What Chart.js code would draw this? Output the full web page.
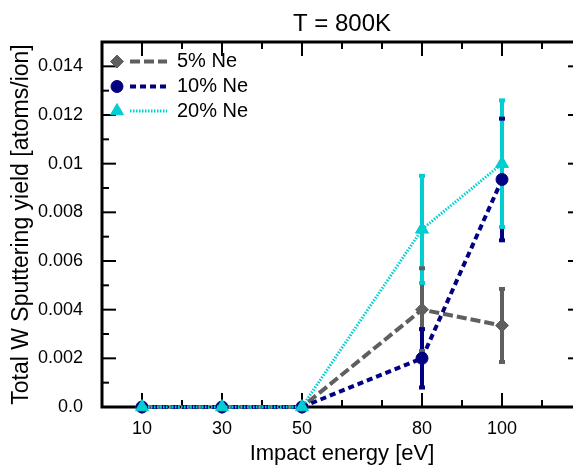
<!DOCTYPE html>
<html>
<head>
<meta charset="utf-8">
<script src="https://cdn.jsdelivr.net/npm/chart.js@4"></script>
<style>
  html, body { margin: 0; padding: 0; overflow: hidden; background: #fff; }
  #wrap { width: 592px; height: 470px; }
</style>
</head>
<body>
<div id="wrap"><canvas id="chart"></canvas></div>
<script>
const energies = [10, 30, 50, 80, 100];

const ne5 = [0, 0, 0, 0.0040, 0.00335];
const ne5Err = [0, 0, 0, 0.0017, 0.0015];
const ne10 = [0, 0, 0, 0.0020, 0.00935];
const ne10Err = [0, 0, 0, 0.0012, 0.0025];
const ne20 = [0, 0, 0, 0.0073, 0.0100];
const ne20Err = [0, 0, 0, 0.0022, 0.0026];

const xTicks = [10, 30, 50, 80, 100];
const xMinor = [20, 40, 60, 70, 90, 110];
const yTicks = [0, 0.002, 0.004, 0.006, 0.008, 0.010, 0.012, 0.014];
const yMinor = [0.001, 0.003, 0.005, 0.007, 0.009, 0.011, 0.013];

Chart.defaults.font.family = '"Liberation Sans", Arial, Helvetica, sans-serif';
Chart.defaults.color = '#000';

const toPoints = (vals) => energies.map((e, i) => ({ x: e, y: vals[i] }));

// box + inward ticks, all four sides
const framePlugin = {
  id: 'frame',
  beforeDatasetsDraw(chart) {
    const { ctx, chartArea: a, scales: { x, y } } = chart;
    ctx.save();
    ctx.strokeStyle = '#000';
    ctx.lineWidth = 2;
    const seg = (x1, y1, x2, y2) => {
      ctx.beginPath(); ctx.moveTo(x1, y1); ctx.lineTo(x2, y2); ctx.stroke();
    };
    const xt = (v, len) => {
      const px = x.getPixelForValue(v);
      seg(px, a.bottom, px, a.bottom - len);
      seg(px, a.top, px, a.top + len);
    };
    const yt = (v, len) => {
      const py = y.getPixelForValue(v);
      seg(a.left, py, a.left + len, py);
      seg(a.right, py, a.right - len, py);
    };
    xTicks.forEach(v => xt(v, 14));
    xMinor.forEach(v => xt(v, 7));
    yTicks.forEach(v => yt(v, 14));
    yMinor.forEach(v => yt(v, 7));
    ctx.lineWidth = 3;
    ctx.strokeRect(a.left, a.top, a.width, a.height);
    ctx.restore();
  }
};

const errorBarPlugin = {
  id: 'errorBars',
  beforeDatasetsDraw(chart) {
    const { ctx, scales: { x, y } } = chart;
    const sets = [...chart.data.datasets].sort((a, b) => b.order - a.order);
    ctx.save();
    ctx.lineWidth = 4;
    sets.forEach(ds => {
      ctx.strokeStyle = ds.borderColor;
      ds.data.forEach((p, i) => {
        const e = ds.errors[i];
        if (!e) return;
        const px = x.getPixelForValue(p.x);
        ctx.beginPath();
        ctx.moveTo(px, y.getPixelForValue(p.y - e));
        ctx.lineTo(px, y.getPixelForValue(p.y + e));
        ctx.stroke();
      });
    });
    sets.forEach(ds => {
      ctx.fillStyle = ds.borderColor;
      ds.data.forEach((p, i) => {
        const e = ds.errors[i];
        if (!e) return;
        const px = x.getPixelForValue(p.x);
        [p.y - e, p.y + e].forEach(v => {
          ctx.fillRect(px - 3, y.getPixelForValue(v) - 2, 6, 4);
        });
      });
    });
    ctx.restore();
  }
};

const legendPlugin = {
  id: 'innerLegend',
  afterDraw(chart) {
    const { ctx, chartArea: a } = chart;
    const rows = [19.5, 44.5, 69];
    ctx.save();
    chart.data.datasets.forEach((ds, i) => {
      const yy = a.top + rows[i];
      ctx.strokeStyle = ds.borderColor;
      ctx.lineWidth = ds.borderWidth;
      ctx.setLineDash(ds.borderDash);
      ctx.beginPath();
      ctx.moveTo(a.left + 28, yy);
      ctx.lineTo(a.left + 65, yy);
      ctx.stroke();
      ctx.setLineDash([]);
      ctx.fillStyle = ds.borderColor;
      ctx.lineWidth = 1;
      Chart.helpers.drawPoint(ctx, {
        pointStyle: ds.pointStyle, radius: ds.pointRadius, rotation: 0, borderWidth: 1
      }, a.left + 15, yy);
      ctx.fillStyle = '#000';
      ctx.font = '20px "Liberation Sans", Arial, sans-serif';
      ctx.textBaseline = 'middle';
      ctx.textAlign = 'left';
      ctx.fillText(ds.label, a.left + 75, yy);
    });
    ctx.restore();
  }
};

new Chart(document.getElementById('chart'), {
  type: 'line',
  data: {
    datasets: [
      {
        label: '5% Ne', data: toPoints(ne5), errors: ne5Err, order: 3,
        borderColor: '#5f5f5f', backgroundColor: '#5f5f5f', borderWidth: 4, borderDash: [10, 4],
        pointStyle: 'rectRot', pointRadius: 6.5, pointBorderWidth: 1
      },
      {
        label: '10% Ne', data: toPoints(ne10), errors: ne10Err, order: 2,
        borderColor: '#000080', backgroundColor: '#000080', borderWidth: 4, borderDash: [6, 4],
        pointStyle: 'circle', pointRadius: 6, pointBorderWidth: 1
      },
      {
        label: '20% Ne', data: toPoints(ne20), errors: ne20Err, order: 1,
        borderColor: '#00ced1', backgroundColor: '#00ced1', borderWidth: 3, borderDash: [1.5, 1.5],
        pointStyle: 'triangle', pointRadius: 7.5, pointBorderWidth: 1
      }
    ]
  },
  options: {
    responsive: true,
    maintainAspectRatio: false,
    animation: false,
    layout: { padding: { left: 0, right: 10, top: 0, bottom: 0 } },
    elements: { line: { tension: 0 } },
    datasets: { line: { clip: false } },
    plugins: {
      legend: { display: false },
      tooltip: { enabled: false },
      title: {
        display: true, text: 'T = 800K', fullSize: false,
        font: { size: 24, weight: 'normal' }, color: '#000',
        padding: { top: 10, bottom: 3.2 }
      }
    },
    scales: {
      x: {
        type: 'linear', min: 0, max: 120,
        grid: { display: false }, border: { display: false },
        afterBuildTicks: (s) => { s.ticks = xTicks.map(v => ({ value: v })); },
        afterFit: (s) => { s.height = 63; },
        ticks: { font: { size: 18 }, color: '#000', padding: 3, maxRotation: 0 },
        title: {
          display: true, text: 'Impact energy [eV]', color: '#000',
          font: { size: 22 }, padding: { top: 0, bottom: 3 }
        }
      },
      y: {
        type: 'linear', min: 0, max: 0.015,
        grid: { display: false }, border: { display: false },
        afterBuildTicks: (s) => { s.ticks = yTicks.map(v => ({ value: v })); },
        afterFit: (s) => { s.width = 102; },
        ticks: {
          font: { size: 18 }, color: '#000', padding: 11,
          callback: (v) => v === 0 ? '0.0' : String(+v.toFixed(3))
        },
        title: {
          display: true, text: 'Total W Sputtering yield [atoms/ion]', color: '#000',
          font: { size: 23 }, padding: { top: 8, bottom: 0 }
        }
      }
    }
  },
  plugins: [framePlugin, errorBarPlugin, legendPlugin]
});
</script>
</body>
</html>
